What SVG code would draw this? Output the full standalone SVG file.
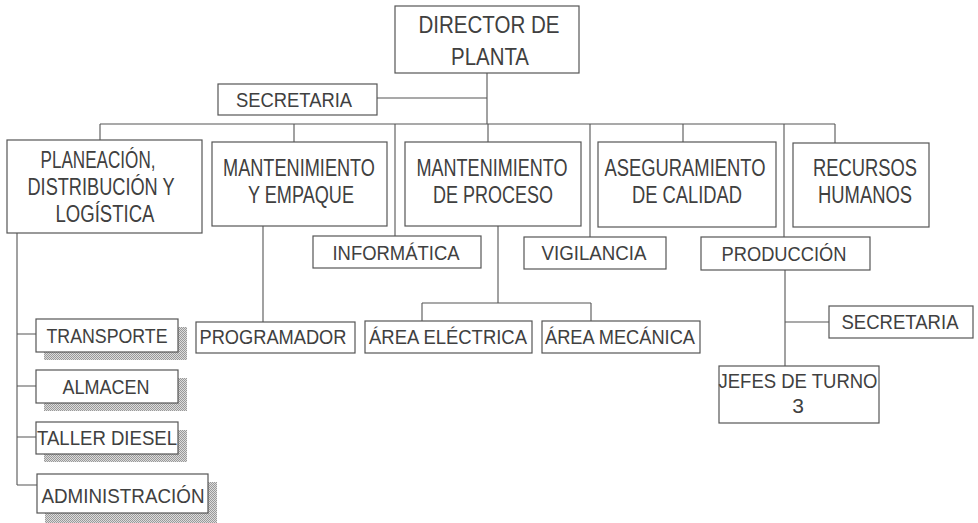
<svg xmlns="http://www.w3.org/2000/svg" width="978" height="523" viewBox="0 0 978 523">
<defs>
<pattern id="dots" width="2" height="2" patternUnits="userSpaceOnUse">
<rect width="2" height="2" fill="#dcdcdc"/>
<rect width="1" height="1" fill="#999"/>
<rect x="1" y="1" width="1" height="1" fill="#999"/>
</pattern>
<style>
.box{fill:#fff;stroke:#555;stroke-width:1.2}
.sh{fill:url(#dots)}
.ln{fill:none;stroke:#555;stroke-width:1.1}
text{font-family:"Liberation Sans",Arial,sans-serif;fill:#404040;text-anchor:middle}
.t1{font-size:24px}
.t2{font-size:23px}
.t3{font-size:21px}
</style>
</defs>
<rect width="978" height="523" fill="#fff"/>
<g id="connectors">
<path class="ln" d="M487 73V124M377 98H487M100 124H835M100 124V140M294 124V142M395 124V236M488 124V142M590 124V237M683 124V142M784 124V237M835 124V143"/>
<path class="ln" d="M17 233V485M17 334H36M17 386H36M17 437H36M17 485H37"/>
<path class="ln" d="M263 226V322"/>
<path class="ln" d="M498 226V303M422 303H591M422 303V321M591 303V321"/>
<path class="ln" d="M785 270V366M785 322H829"/>
</g>
<g id="director"><rect class="box" x="395" y="6" width="184" height="67"/>
<text class="t1" x="489" y="33" textLength="141" lengthAdjust="spacingAndGlyphs">DIRECTOR DE</text>
<text class="t1" x="490" y="65" textLength="78" lengthAdjust="spacingAndGlyphs">PLANTA</text></g>
<g id="secretaria1"><rect class="box" x="218" y="84" width="159" height="31"/>
<text class="t3" x="294" y="107" textLength="116" lengthAdjust="spacingAndGlyphs">SECRETARIA</text></g>
<g id="planeacion"><rect class="box" x="7" y="140" width="195" height="93"/>
<text class="t2" x="98" y="168" textLength="115" lengthAdjust="spacingAndGlyphs">PLANEACIÓN,</text>
<text class="t2" x="101" y="195" textLength="147" lengthAdjust="spacingAndGlyphs">DISTRIBUCIÓN Y</text>
<text class="t2" x="105" y="222" textLength="99" lengthAdjust="spacingAndGlyphs">LOGÍSTICA</text></g>
<g id="mant-empaque"><rect class="box" x="212" y="142" width="175" height="84"/>
<text class="t2" x="299" y="176" textLength="152" lengthAdjust="spacingAndGlyphs">MANTENIMIENTO</text>
<text class="t2" x="301" y="203" textLength="106" lengthAdjust="spacingAndGlyphs">Y EMPAQUE</text></g>
<g id="mant-proceso"><rect class="box" x="405" y="142" width="176" height="84"/>
<text class="t2" x="492" y="176" textLength="151" lengthAdjust="spacingAndGlyphs">MANTENIMIENTO</text>
<text class="t2" x="493" y="203" textLength="120" lengthAdjust="spacingAndGlyphs">DE PROCESO</text></g>
<g id="aseguramiento"><rect class="box" x="598" y="142" width="178" height="85"/>
<text class="t2" x="685" y="176" textLength="161" lengthAdjust="spacingAndGlyphs">ASEGURAMIENTO</text>
<text class="t2" x="687" y="203" textLength="110" lengthAdjust="spacingAndGlyphs">DE CALIDAD</text></g>
<g id="recursos"><rect class="box" x="793" y="143" width="136" height="84"/>
<text class="t2" x="865" y="176" textLength="104" lengthAdjust="spacingAndGlyphs">RECURSOS</text>
<text class="t2" x="865" y="203" textLength="94" lengthAdjust="spacingAndGlyphs">HUMANOS</text></g>
<g id="informatica"><rect class="box" x="313" y="236" width="168" height="32"/>
<text class="t3" x="396" y="260" textLength="127" lengthAdjust="spacingAndGlyphs">INFORMÁTICA</text></g>
<g id="vigilancia"><rect class="box" x="524" y="237" width="142" height="32"/>
<text class="t3" x="594" y="260" textLength="105" lengthAdjust="spacingAndGlyphs">VIGILANCIA</text></g>
<g id="produccion"><rect class="box" x="701" y="237" width="169" height="33"/>
<text class="t3" x="784" y="261" textLength="125" lengthAdjust="spacingAndGlyphs">PRODUCCIÓN</text></g>
<g id="programador"><rect class="box" x="196" y="322" width="159" height="31"/>
<text class="t3" x="273" y="344" textLength="147" lengthAdjust="spacingAndGlyphs">PROGRAMADOR</text></g>
<g id="area-electrica"><rect class="box" x="365" y="321" width="167" height="32"/>
<text class="t3" x="448" y="344" textLength="158" lengthAdjust="spacingAndGlyphs">ÁREA ELÉCTRICA</text></g>
<g id="area-mecanica"><rect class="box" x="542" y="321" width="158" height="32"/>
<text class="t3" x="620" y="344" textLength="150" lengthAdjust="spacingAndGlyphs">ÁREA MECÁNICA</text></g>
<g id="transporte"><rect class="sh" x="44" y="327" width="143" height="33"/><rect class="box" x="36" y="319" width="142" height="33"/>
<text class="t3" x="107" y="343" textLength="121" lengthAdjust="spacingAndGlyphs">TRANSPORTE</text></g>
<g id="almacen"><rect class="sh" x="44" y="378" width="143" height="33"/><rect class="box" x="36" y="370" width="142" height="33"/>
<text class="t3" x="106" y="394" textLength="87" lengthAdjust="spacingAndGlyphs">ALMACEN</text></g>
<g id="taller"><rect class="sh" x="44" y="430" width="143" height="32"/><rect class="box" x="36" y="422" width="142" height="32"/>
<text class="t3" x="107" y="445" textLength="140" lengthAdjust="spacingAndGlyphs">TALLER DIESEL</text></g>
<g id="administracion"><rect class="sh" x="45" y="482" width="172" height="41"/><rect class="box" x="37" y="474" width="171" height="39"/>
<text class="t3" x="123" y="503" textLength="163" lengthAdjust="spacingAndGlyphs">ADMINISTRACIÓN</text></g>
<g id="secretaria2"><rect class="box" x="829" y="306" width="144" height="32"/>
<text class="t3" x="900" y="329" textLength="117" lengthAdjust="spacingAndGlyphs">SECRETARIA</text></g>
<g id="jefes"><rect class="box" x="719" y="366" width="160" height="57"/>
<text class="t3" x="798" y="388" textLength="159" lengthAdjust="spacingAndGlyphs">JEFES DE TURNO</text>
<text class="t3" x="798" y="413">3</text></g>
</svg>
